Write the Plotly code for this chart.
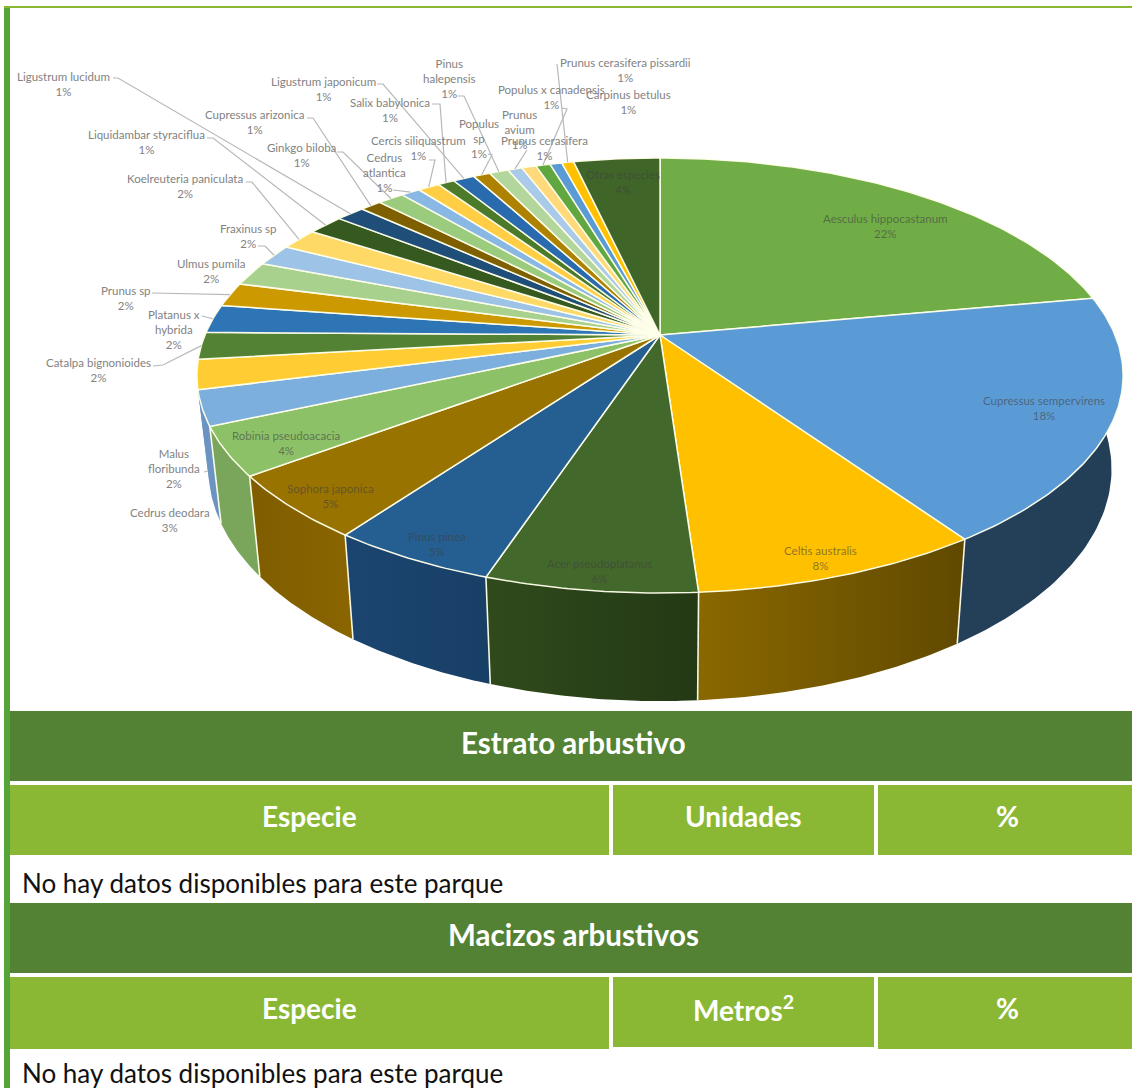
import numpy as np
import plotly.graph_objects as go

# ---------- data ----------
species = ["Aesculus hippocastanum", "Cupressus sempervirens", "Celtis australis", "Acer pseudoplatanus",
           "Pinus pinea", "Sophora japonica", "Robinia pseudoacacia", "Cedrus deodara", "Malus<br>floribunda",
           "Catalpa bignonioides", "Platanus x<br>hybrida", "Prunus sp", "Ulmus pumila", "Fraxinus sp",
           "Koelreuteria paniculata", "Liquidambar styraciflua", "Ligustrum lucidum", "Cupressus arizonica",
           "Ginkgo biloba", "Cedrus<br>atlantica", "Cercis siliquastrum", "Salix babylonica",
           "Ligustrum japonicum", "Populus<br>sp", "Pinus<br>halepensis", "Prunus<br>avium", "Prunus cerasifera",
           "Populus x canadensis", "Carpinus betulus", "Prunus cerasifera pissardii", "Otras especies"]
values = [22.1, 18.3, 8.5, 6.2, 4.9, 4.8, 3.6, 2.6, 2.2, 2.0, 2.1, 1.8, 1.8, 1.6, 1.6, 1.5,
          1.2, 0.9, 1.1, 0.8, 0.9, 0.7, 0.9, 0.7, 0.8, 0.6, 0.6, 0.6, 0.5, 0.5, 3.6]
pct_labels = ["22%", "18%", "8%", "6%", "5%", "5%", "4%", "3%", "2%", "2%", "2%", "2%", "2%", "2%", "2%", "1%",
              "1%", "1%", "1%", "1%", "1%", "1%", "1%", "1%", "1%", "1%", "1%", "1%", "1%", "1%", "4%"]
table_titles = ["Estrato arbustivo", "Macizos arbustivos"]
table_cols_1 = ["Especie", "Unidades", "%"]
table_cols_2 = ["Especie", "Metros<sup>2</sup>", "%"]
no_data = "No hay datos disponibles para este parque"

# ---------- styles ----------
colors = ["#70AD47", "#5B9BD5", "#FFC000", "#43682B", "#255E91", "#997300", "#8CC168", "#7CAFDD", "#FFCD33",
          "#548235", "#2E75B6", "#CC9A00", "#A9D18E", "#9DC3E6", "#FFD966", "#35591F", "#1F4E79", "#7F6000",
          "#9BCB7C", "#8AB8E4", "#FFCE44", "#4C7A2B", "#2A6BAF", "#AE8100", "#B3D69C", "#AACAEA", "#FFD97A",
          "#5FA73E", "#5B9BD5", "#FFC000", "#3F6529"]
wall_left = {1: "#244059", 2: "#8A6800", 3: "#304A1C", 4: "#1B4570", 5: "#7F5D00", 6: "#79A65A", 7: "#6B94C2", 8: "#6B94C2"}
wall_right = {1: "#233F57", 2: "#604900", 3: "#233915", 4: "#183F66", 5: "#8A6500", 6: "#79A65A", 7: "#6B94C2", 8: "#6B94C2"}
EDGE = "rgba(255,255,235,0.95)"
FONT = "Lato"
GRAY = "#828282"
IN_PIE = "rgba(64,64,64,0.6)"

# perspective model of the pie disc
CX, CY, A, B, K = 660.0, 335.0, 455.0, 210.0, 0.1862
def top(a):
    w = 1 + K * np.cos(a)
    return CX + A * np.sin(a) / w, CY - B * np.cos(a) / w
def bottom(a):
    x, y = top(a)
    return CX + 0.975 * (x - CX), 426 + 1.066 * (y - CY)

v = np.array(values)
edges = np.concatenate([[0], np.cumsum(v)]) / v.sum() * 2 * np.pi
mids = (edges[:-1] + edges[1:]) / 2

fig = go.Figure()

# side wall
W0, W1 = np.radians(92), np.radians(264)
for i in wall_left:
    a0, a1 = max(edges[i], W0), min(edges[i + 1], W1)
    if a1 <= a0:
        continue
    t = np.linspace(a0, a1, 50)
    xt, yt = top(t)
    xb, yb = bottom(t)
    fig.add_trace(go.Scatter(x=np.r_[xt, xb[::-1], xt[0]], y=np.r_[yt, yb[::-1], yt[0]], mode="lines",
                             line=dict(width=0), fill="toself",
                             fillgradient=dict(type="horizontal",
                                               colorscale=[[0, wall_left[i]], [1, wall_right[i]]]),
                             hoverinfo="skip", showlegend=False))
# wall edges
ex, ey = [], []
for a in edges:
    if W0 < a < W1 and top(a)[1] > 420:
        xt, yt = top(a)
        xb, yb = bottom(a)
        ex += [xt, xb, None]
        ey += [yt, yb, None]
fig.add_trace(go.Scatter(x=ex, y=ey, mode="lines", line=dict(color=EDGE, width=1.6),
                         hoverinfo="skip", showlegend=False))

# top surface
for i, c in enumerate(colors):
    t = np.linspace(edges[i], edges[i + 1], max(3, int((edges[i + 1] - edges[i]) * 80)))
    x, y = top(t)
    fig.add_trace(go.Scatter(x=np.r_[CX, x, CX], y=np.r_[CY, y, CY], mode="lines",
                             line=dict(color=EDGE, width=1.5), fill="toself", fillcolor=c,
                             hoverinfo="skip", showlegend=False))

# label centres (x, y of the block centre) in picture space
label_pos = [(885, 226), (1044, 408), (820, 558), (599, 571), (437, 544), (330, 496), (286, 443), (170, 520),
             (174, 468), (98, 370), (174, 329), (126, 298), (211, 271), (248, 236), (185, 186), (146, 142),
             (63, 84), (254, 122), (301, 155), (384, 172), (418, 148), (390, 110), (323, 89), (479, 138),
             (449, 78), (519, 129), (544, 148), (551, 97), (628, 102), (625, 70), (623, 182)]
for i, (name, pct, (lx, ly)) in enumerate(zip(species, pct_labels, label_pos)):
    col = IN_PIE if i < 7 or i == 30 else GRAY
    fig.add_annotation(x=lx, y=ly, text=f"{name}<br>{pct}", showarrow=False, align="center",
                       xanchor="center", yanchor="middle",
                       font=dict(family=FONT, size=11.5, color=col))

# leader lines: index -> start and elbow beside the label; the far end is on the wedge rim
leaders = {16: [(113, 78), (118, 78)], 15: [(207, 138), (213, 138)], 14: [(246, 182), (252, 182)],
           13: [(258, 246), (265, 246)], 11: [(152, 293)], 10: [(202, 316)], 9: [(153, 366), (163, 365)],
           17: [(307, 118), (313, 118)], 18: [(337, 152), (343, 152)], 19: [(393, 190)],
           22: [(377, 84), (383, 84)], 21: [(432, 104), (440, 104)], 20: [(429, 160), (435, 160)],
           24: [(458, 96), (464, 96)], 23: [(488, 154), (492, 155)], 25: [(527, 150)],
           27: [(562, 108), (567, 109)], 29: [(557, 64)]}
lx_all, ly_all = [], []
for i, pts in leaders.items():
    rx, ry = top(mids[i])
    for p in pts:
        lx_all.append(p[0]); ly_all.append(p[1])
    lx_all += [rx, None]; ly_all += [ry, None]
lx_all += [204, 208, None]; ly_all += [472, 471, None]
fig.add_trace(go.Scatter(x=lx_all, y=ly_all, mode="lines", line=dict(color="#B8B8B8", width=1.2),
                         hoverinfo="skip", showlegend=False))

# page frame and tables
DARK, LIME, BAR = "#548235", "#8BB834", "#56A338"
rects = [(4, 6, 1132, 8, LIME), (4, 8, 10, 1088, BAR),
         (10, 711, 1132, 781, DARK), (10, 785, 609, 855, LIME), (613, 785, 874, 855, LIME), (878, 785, 1132, 855, LIME),
         (10, 903, 1132, 973, DARK), (10, 977, 609, 1049, LIME), (613, 977, 874, 1047, LIME), (878, 977, 1132, 1049, LIME)]
shapes = [dict(type="rect", xref="x", yref="y", x0=a, y0=b, x1=c, y1=d, fillcolor=f, line=dict(width=0), layer="below")
          for a, b, c, d, f in rects]

def cell(x, y, text, color="white", bold=True, size=29.5, anchor="center"):
    fig.add_annotation(x=x, y=y, text=f"<b>{text}</b>" if bold else text, showarrow=False, xanchor=anchor,
                       yanchor="middle", font=dict(family=FONT, size=size, color=color))

for y0, title, cols, yc, yn in [(742, table_titles[0], table_cols_1, 816, 883),
                                (934, table_titles[1], table_cols_2, 1008, 1073)]:
    cell(573, y0, title)
    for x, c in zip([309, 743, 1007], cols):
        cell(x, yc, c, size=28)
    cell(20, yn, no_data, color="#111111", bold=False, size=26, anchor="left")

fig.update_layout(width=1132, height=1088, margin=dict(l=0, r=0, t=0, b=0), paper_bgcolor="white",
                  plot_bgcolor="white", shapes=shapes, showlegend=False, hovermode=False,
                  xaxis=dict(range=[0, 1132], visible=False, fixedrange=True),
                  yaxis=dict(range=[1088, 0], visible=False, fixedrange=True))
fig.write_html("out.html", config=dict(displayModeBar=False),
               post_script="document.body.style.margin='0';document.body.style.overflow='hidden';")
